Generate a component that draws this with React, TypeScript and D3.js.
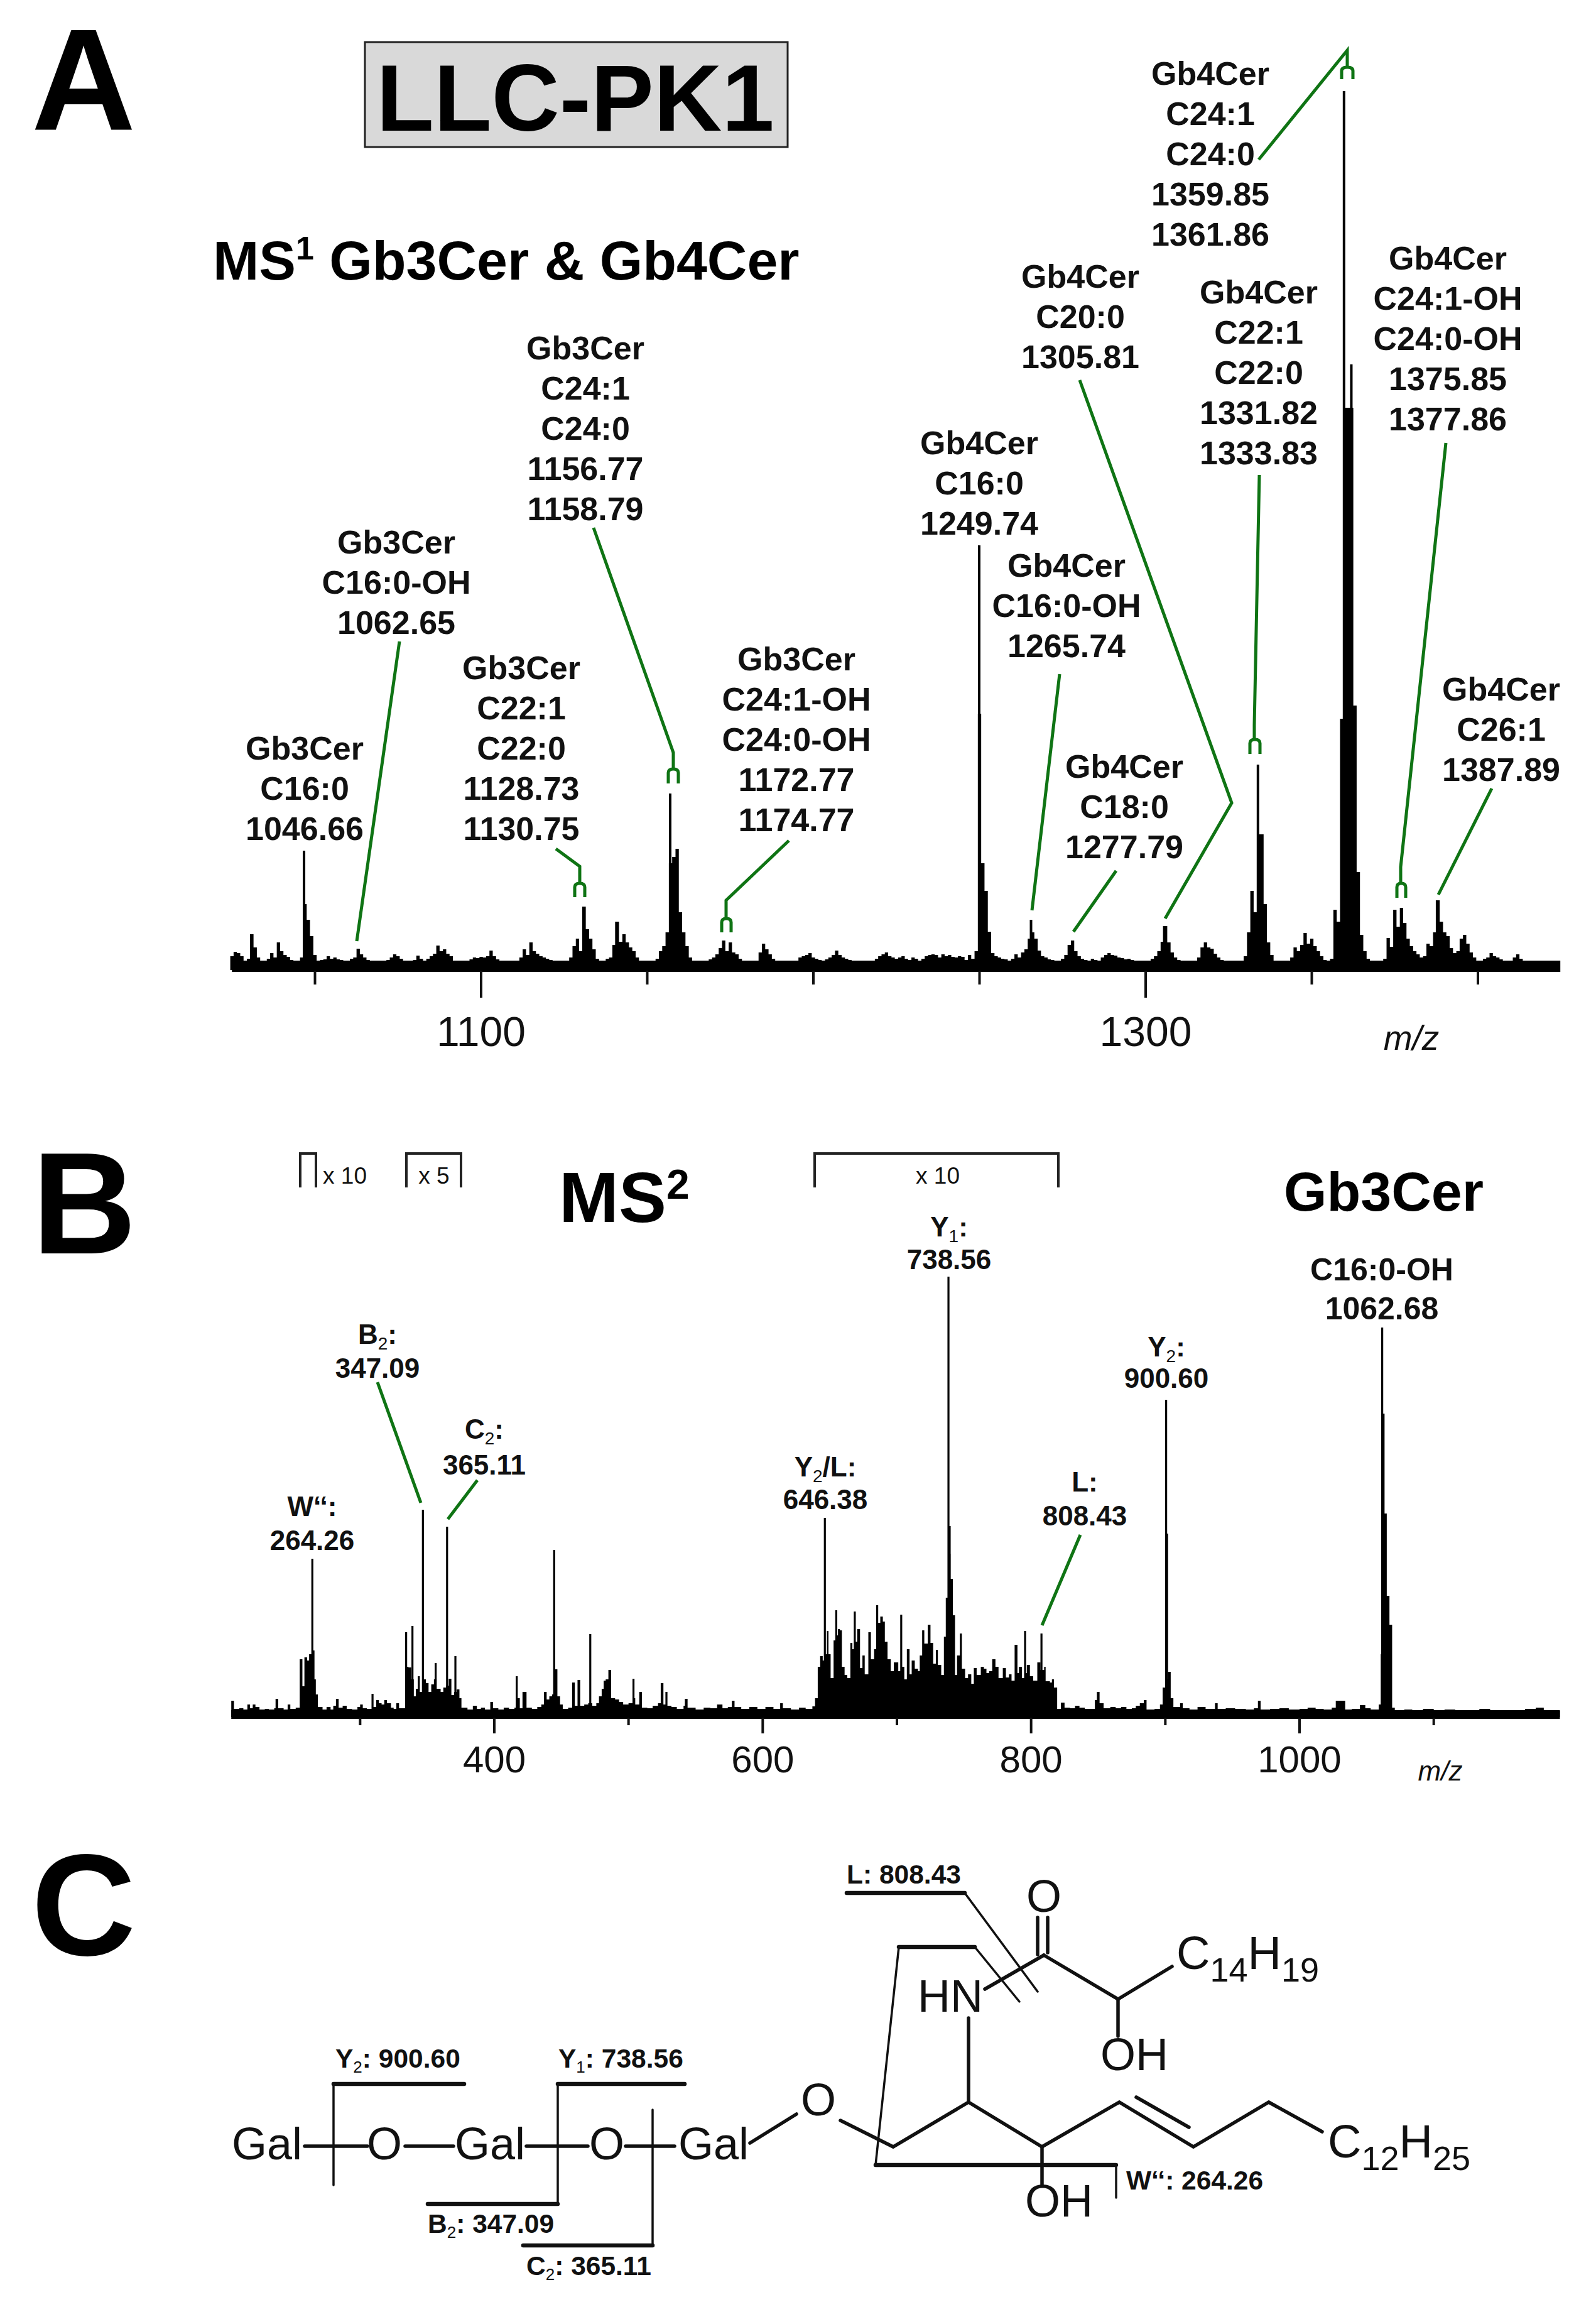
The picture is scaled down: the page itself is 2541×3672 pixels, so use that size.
import React from "react";
import * as d3 from "d3";

// ---------- Panel A data (MS1), one intensity per m/z unit from 1025 ----------
const ms1StartMz = 1025;
const ms1Intensity = [
  22, 29, 27, 22, 15,
  18, 57, 36, 20, 15, 14, 18, 27, 20, 44,
  30, 24, 21, 16, 14, 14, 20, 105, 80, 54,
  24, 15, 16, 17, 22, 18, 20, 17, 16, 15,
  15, 18, 20, 34, 25, 20, 16, 14, 15, 13,
  14, 14, 16, 20, 25, 22, 18, 15, 13, 12,
  16, 23, 18, 14, 18, 22, 26, 39, 30, 33,
  26, 22, 15, 13, 12, 13, 15, 17, 20, 19,
  21, 20, 22, 31, 22, 17, 14, 14, 13, 13,
  14, 15, 20, 33, 24, 44, 30, 26, 22, 20,
  18, 16, 14, 14, 13, 13, 14, 20, 38, 50,
  30, 101, 65, 50, 33, 18, 14, 14, 18, 20,
  40, 77, 45, 57, 44, 36, 30, 20, 15, 13,
  14, 13, 14, 18, 30, 38, 60, 170, 180, 193,
  92, 60, 38, 20, 14, 13, 14, 13, 15, 17,
  20, 25, 35, 47, 30, 44, 28, 25, 18, 14,
  13, 13, 13, 14, 28, 42, 33, 25, 18, 14,
  13, 12, 14, 13, 14, 15, 20, 22, 24, 27,
  20, 18, 16, 15, 17, 20, 24, 31, 24, 20,
  18, 16, 14, 13, 15, 14, 13, 14, 15, 18,
  22, 25, 28, 22, 20, 18, 20, 22, 18, 16,
  20, 18, 15, 18, 22, 24, 25, 24, 20, 25,
  22, 24, 21, 20, 22, 21, 16, 24, 18, 30,
  408, 170, 126, 61, 27, 22, 20, 18, 17, 15,
  18, 25, 20, 28, 33, 50, 60, 50, 31, 22,
  20, 17, 16, 14, 13, 18, 24, 40, 47, 30,
  22, 18, 16, 15, 18, 16, 15, 20, 24, 27,
  24, 23, 20, 19, 17, 18, 16, 14, 12, 11,
  13, 15, 18, 22, 30, 45, 70, 44, 28, 20,
  16, 14, 13, 12, 12, 13, 20, 36, 44, 36,
  34, 26, 20, 16, 13, 12, 12, 13, 14, 15,
  22, 60, 126, 92, 216, 216, 105, 44, 24, 15,
  13, 14, 14, 15, 20, 36, 30, 40, 59, 42,
  50, 38, 30, 22, 16, 13, 18, 96, 77, 400,
  895, 895, 895, 421, 156, 56, 30, 18, 15, 13,
  12, 13, 18, 51, 37, 96, 69, 99, 75, 50,
  38, 30, 25, 20, 22, 42, 38, 60, 111, 77,
  60, 54, 35, 27, 30, 50, 56, 42, 28, 20,
  14, 14, 18, 20, 27, 22, 20, 17, 14, 14,
  15, 20, 25, 18, 15, 14, 13, 13, 13, 13,
  14, 13, 13, 13, 13,
];
const ms1Spikes: [number, number][] = [
  [1030.8, 57], [1046.7, 190], [1130.8, 101], [1156.9, 281], [1140.7, 77],
  [1249.9, 676], [1265.5, 80], [1277.9, 47], [1305.6, 70], [1333.8, 327],
  [1359.7, 1399], [1361.9, 964], [1387.7, 111],
];
const ms1NoiseFloor = 15;
const ms1MajorTicks = [1100, 1300];
const ms1MinorTicks = [1050, 1150, 1200, 1250, 1350, 1400];

const ms1Labels: string[][] = [
  ["Gb3Cer", "C16:0", "1046.66"],
  ["Gb3Cer", "C16:0-OH", "1062.65"],
  ["Gb3Cer", "C22:1", "C22:0", "1128.73", "1130.75"],
  ["Gb3Cer", "C24:1", "C24:0", "1156.77", "1158.79"],
  ["Gb3Cer", "C24:1-OH", "C24:0-OH", "1172.77", "1174.77"],
  ["Gb4Cer", "C16:0", "1249.74"],
  ["Gb4Cer", "C16:0-OH", "1265.74"],
  ["Gb4Cer", "C18:0", "1277.79"],
  ["Gb4Cer", "C20:0", "1305.81"],
  ["Gb4Cer", "C22:1", "C22:0", "1331.82", "1333.83"],
  ["Gb4Cer", "C24:1", "C24:0", "1359.85", "1361.86"],
  ["Gb4Cer", "C24:1-OH", "C24:0-OH", "1375.85", "1377.86"],
  ["Gb4Cer", "C26:1", "1387.89"],
];
const ms1LabelAnchors: [number, number][] = [
  [485, 1337], [631, 1009], [830, 1337], [932, 828], [1268, 1323], [1559, 851], [1698, 1046],
  [1790, 1366], [1720, 586], [2004, 739], [1927, 391], [2305, 685], [2390, 1243],
];

// ---------- Panel B data (MS2): [m/z, intensity] profile and sharp peaks ----------
const ms2Profile: [number, number][] = [
  [204,26],[206,13],[210,14],[213,12],[216,20],[218,14],[220,20],[222,16],[225,12],[229,13],[232,12],[236,14],[237,29],[239,14],[243,12],[246,20],[248,13],[252,15],
  [255,92],[257,49],[258.5,95],[260.5,90],[262,100],[264,106],[266,60],[267,36],[268.5,16],[272,12],[275,16],[278,12],[280,18],[282,29],[284,15],[287,18],[290,13],[294,12],[298,16],[300,20],[302,14],[305,13],
  [308.5,37],[310,16],[312,27],[314,22],[316,20],[318,27],[320,22],[323,15],[325,13],[327,22],[329,14],[332,14],
  [333.5,80],[336,79],[338,60],[340,33],[341.5,45],[343,65],[344.5,40],[347,60],[349,54],[351,40],[353,52],[355,60],[357,45],[360,40],[362,47],[364,50],[366,61],[368,35],[370,40],[372,44],[374,30],[375.5,15],
  [380,12],[384,18],[387,13],[390,15],[393,12],[397,24],[399,14],[403,12],[407,15],[411,13],[415,15],[417,30],[419,14],[421,40],[424,15],[428,13],[432,16],[435,20],[437,40],[439,28],[441,33],[443,36],[445,76],[447,33],[449,20],[451,13],
  [455,15],[458,55],[460,18],[462,59],[464,18],[467,20],[470,22],[473,18],[476,22],[478,33],[480,45],[481.5,58],[483,60],[485,75],[487,30],[490,28],[493,24],[496,20],[500,22],[503,30],[505,20],[508,40],[510,15],
  [514,14],[518,18],[522,22],[524,54],[526,20],[527.5,40],[529,18],[532,16],[536,13],[541,18],[542,29],[544,15],[550,12],[556,15],[561,14],[566,20],[570,14],[574,16],[577,26],[579,16],[584,13],[590,16],[596,13],[602,16],[608,13],[613,22],[615,14],[621,12],[627,15],[632,13],
  [637,17],[639,30],[641,80],[642.8,97],[644.7,90],[646.3,100],[647.8,137],[649,100],[650.6,62],[652.8,122],[654.8,130],[656,140],[657.5,138],[659,80],[661,67],[663,62],
  [665.3,118],[666.8,108],[668.6,120],[670.4,140],[672.5,78],[674.3,98],[676,68],[678.7,135],[680.6,92],[683,108],[685.3,150],[687.6,160],[689.5,152],[691,120],[693,92],[695.4,73],[697.7,87],[701,73],[703.2,80],[705.5,60],[707.4,108],[709.4,68],[711,90],[713.3,77],[715.7,73],
  [717,98],[718.8,138],[720.4,117],[723,147],[725,118],[727,85],[729,107],[730.5,83],[733,67],[735,128],[736.4,190],[738,260],[739.9,220],[741.7,162],[743.3,67],[744.8,98],[746.9,133],[748.4,77],[750.8,62],[753,68],[755.4,53],[757.3,78],[759.4,67],[762.5,80],[764.8,77],[766.7,70],[768.7,73],
  [771,92],[773.4,80],[775.7,62],[778.9,78],[781.2,63],[783.5,68],[785.4,58],[787.7,115],[789.8,70],[790.9,80],[793.2,62],[795.5,70],[796.8,83],[799.1,65],[801.5,58],[804.6,87],[807,75],[809.7,80],[810.8,57],[814,55],[815.5,60],[817,47],[819.4,13],
  [822.2,23],[824.9,15],[829,14],[832.7,18],[836,15],[840,13],[844,13],[847.5,27],[849,40],[851,22],[854,14],[859,16],[863,14],[867,16],[871,13],[875,14],[878,18],[881,22],[884,27],[886,12],[892,13],[896,20],[898,47],[900,60],[902,72],[904,30],[906,16],
  [911,22],[913,14],[918,12],[924,16],[930,13],[937,22],[939,13],[945,14],[952,13],[960,12],[966,14],[969,26],[971,12],[978,13],[985,14],[992,12],[1000,13],[1006,15],[1012,13],[1018,12],[1024,15],[1027,26],[1031,26],[1034,12],[1039,13],[1045,19],[1049,14],[1053,12],
  [1059,20],[1060.5,100],[1062,200],[1064,324],[1065,193],[1067,147],[1069,15],[1071,10],[1078,12],[1084,10],[1092,13],[1100,10],[1108,12],[1116,10],[1124,11],[1134,13],[1142,10],[1152,11],[1160,10],[1168,13],[1176,15],[1182,11],[1188,10],[1194,10],
];
const ms2Spikes: [number, number][] = [
  [264.4, 252], [334.3, 135], [339, 145], [346.8, 330], [356.3, 86], [364.8, 303], [371, 97],
  [416.7, 65], [444.6, 266], [471.5, 132], [503.7, 61], [646.3, 317], [654.8, 170], [668.6, 168],
  [685.3, 178], [703.2, 163], [738.4, 701], [739.3, 304], [795.5, 137], [807.7, 133],
  [900.6, 505], [901.3, 292], [1061.6, 620], [1062.6, 483], [1063.4, 324],
];
const ms2NoiseFloor = 11;
const ms2MajorTicks = [400, 600, 800, 1000];
const ms2MinorTicks = [300, 500, 700, 900, 1100];

type Seg = { t: string; sub?: boolean };
const ms2Labels: Seg[][][] = [
  [[{ t: "W‘‘:" }], [{ t: "264.26" }]],
  [[{ t: "B" }, { t: "2", sub: true }, { t: ":" }], [{ t: "347.09" }]],
  [[{ t: "C" }, { t: "2", sub: true }, { t: ":" }], [{ t: "365.11" }]],
  [[{ t: "Y" }, { t: "2", sub: true }, { t: "/L:" }], [{ t: "646.38" }]],
  [[{ t: "Y" }, { t: "1", sub: true }, { t: ":" }], [{ t: "738.56" }]],
  [[{ t: "L:" }], [{ t: "808.43" }]],
  [[{ t: "Y" }, { t: "2", sub: true }, { t: ":" }], [{ t: "900.60" }]],
];
const ms2LabelAnchors: [number, number, number][] = [
  [497, 2413, 2467], [601, 2139, 2193], [771, 2290, 2347], [1314, 2350, 2402],
  [1511, 1968, 2020], [1727, 2374, 2428], [1857, 2159, 2209],
];

// ---------- Layout ----------
const FONT = "'Liberation Sans', Arial, sans-serif";
const GREEN = "#0f7414";

const x1 = d3.scaleLinear().domain([1100, 1300]).range([766, 1824]);
const y1 = d3.scaleLinear().domain([0, 1400]).range([1544, 144]);
const x2 = d3.scaleLinear().domain([400, 1000]).range([787, 2069]);
const y2 = d3.scaleLinear().domain([0, 700]).range([2733, 2033]);

const ms1Points: [number, number][] = ms1Intensity.map((v, i) => [ms1StartMz + i - 0.5, v]);
ms1Points.push([ms1StartMz + ms1Intensity.length - 0.5, ms1Intensity[ms1Intensity.length - 1]]);

const area1 = d3.area<[number, number]>().x((d) => x1(d[0])).y0(y1(0)).y1((d) => y1(d[1])).curve(d3.curveStepAfter);
const area2 = d3.area<[number, number]>().x((d) => x2(d[0])).y0(y2(0)).y1((d) => y2(d[1])).curve(d3.curveStepAfter);
const lineGen = d3.line<[number, number]>();

// green leader lines and the small "two-prong" isotope brackets
const leaders: [number, number][][] = [
  [[636, 1021], [568, 1498]],
  [[885, 1351], [923, 1379], [923, 1404]],
  [[945, 840], [1072, 1198], [1072, 1224]],
  [[1256, 1338], [1156, 1433], [1156, 1462]],
  [[1687, 1073], [1643, 1449]],
  [[1777, 1386], [1709, 1483]],
  [[1719, 605], [1961, 1278], [1855, 1462]],
  [[2005, 756], [1997, 1154], [1997, 1177]],
  [[2004, 254], [2145, 80], [2145, 107]],
  [[2302, 705], [2230, 1380], [2230, 1406]],
  [[2375, 1255], [2290, 1424]],
  [[601, 2200], [670, 2392]],
  [[760, 2356], [713, 2418]],
  [[1720, 2443], [1659, 2587]],
];
const prongs: [number, number, number, number][] = [
  [915, 931, 1406, 1428],
  [1064, 1080, 1224, 1247],
  [1149, 1164, 1462, 1484],
  [1990, 2006, 1177, 1200],
  [2136, 2154, 107, 126],
  [2224, 2238, 1406, 1429],
];

// structure in panel C
const bonds: [number, number][][] = [
  [[1652, 3052], [1652, 3111]],
  [[1668, 3052], [1668, 3108]],
  [[1662, 3112], [1568, 3166]],
  [[1662, 3112], [1780, 3182], [1866, 3130]],
  [[1780, 3182], [1780, 3241]],
  [[1542, 3212], [1542, 3346]],
  [[1194, 3411], [1268, 3365]],
  [[1338, 3375], [1422, 3417], [1542, 3346], [1659, 3417], [1782, 3346], [1900, 3417], [2020, 3346], [2105, 3393]],
  [[1809, 3338], [1893, 3386]],
  [[1659, 3417], [1659, 3478]],
  [[485, 3416], [585, 3416]],
  [[645, 3416], [722, 3416]],
  [[838, 3416], [936, 3416]],
  [[996, 3416], [1074, 3416]],
];
const thinCuts: [number, number][][] = [
  [[1536, 3013], [1652, 3170]],
  [[1552, 3099], [1623, 3186]],
  [[1431, 3099], [1394, 3446]],
  [[1777, 3446], [1777, 3498]],
  [[531, 3317], [531, 3478]],
  [[888, 3317], [888, 3508]],
  [[1039, 3358], [1039, 3574]],
];
const thickCuts: [number, number][][] = [
  [[1348, 3013], [1536, 3013]],
  [[1431, 3099], [1552, 3099]],
  [[1394, 3446], [1777, 3446]],
  [[531, 3317], [739, 3317]],
  [[888, 3317], [1090, 3317]],
  [[681, 3508], [888, 3508]],
  [[833, 3574], [1039, 3574]],
];
const structureAtoms: [string, number, number, "start" | "middle"][] = [
  ["Gal", 369, 3437, "start"], ["O", 612, 3437, "middle"], ["Gal", 724, 3437, "start"],
  ["O", 966, 3437, "middle"], ["Gal", 1080, 3437, "start"], ["O", 1303, 3367, "middle"],
  ["HN", 1461, 3202, "start"], ["O", 1662, 3043, "middle"], ["OH", 1752, 3295, "start"], ["OH", 1632, 3528, "start"],
];
const fragmentLabels: { segs: Seg[]; x: number; y: number }[] = [
  { segs: [{ t: "L: 808.43" }], x: 1348, y: 2998 },
  { segs: [{ t: "Y" }, { t: "2", sub: true }, { t: ": 900.60" }], x: 534, y: 3291 },
  { segs: [{ t: "Y" }, { t: "1", sub: true }, { t: ": 738.56" }], x: 889, y: 3291 },
  { segs: [{ t: "B" }, { t: "2", sub: true }, { t: ": 347.09" }], x: 681, y: 3554 },
  { segs: [{ t: "C" }, { t: "2", sub: true }, { t: ": 365.11" }], x: 838, y: 3621 },
  { segs: [{ t: "W‘‘: 264.26" }], x: 1793, y: 3485 },
];

function SegText({ segs, subSize, subDy }: { segs: Seg[]; subSize: number; subDy: number }) {
  const out: React.ReactNode[] = [];
  let lowered = false;
  segs.forEach((s, i) => {
    const dy = s.sub ? subDy : lowered ? -subDy : 0;
    lowered = !!s.sub;
    out.push(
      <tspan key={i} dy={dy} fontSize={s.sub ? subSize : undefined} fontWeight={s.sub ? 400 : undefined}>
        {s.t}
      </tspan>
    );
  });
  return <>{out}</>;
}

function Formula({ x, y, a, b }: { x: number; y: number; a: string; b: string }) {
  return (
    <text x={x} y={y} fontSize={74} fill="#111">
      C
      <tspan dy={20} fontSize={54}>{a}</tspan>
      <tspan dy={-20}>H</tspan>
      <tspan dy={20} fontSize={54}>{b}</tspan>
    </text>
  );
}

function Ticks({ x, base, major, minor, majorEnd, minorEnd }: { x: d3.ScaleLinear<number, number>; base: number; major: number[]; minor: number[]; majorEnd: number; minorEnd: number }) {
  return (
    <g stroke="#111" strokeWidth={4}>
      {major.map((t) => <line key={t} x1={x(t)} x2={x(t)} y1={base} y2={majorEnd} />)}
      {minor.map((t) => <line key={t} x1={x(t)} x2={x(t)} y1={base} y2={minorEnd} />)}
    </g>
  );
}

export default function App() {
  return (
    <svg width={2541} height={3672} viewBox="0 0 2541 3672" style={{ position: "absolute", left: 0, top: 0, background: "#fff" }} fontFamily={FONT}>
      {/* Panel letters and titles */}
      <g fontWeight={700} fontSize={230} fill="#000">
        <text x={50} y={207}>A</text>
        <text x={51} y={1995}>B</text>
        <text x={50} y={3112}>C</text>
      </g>
      <rect x={581} y={67} width={673} height={167} fill="#d9d9d9" stroke="#222" strokeWidth={3} />
      <text x={916} y={208} textAnchor="middle" fontSize={150} fontWeight={700} fill="#000">LLC-PK1</text>
      <text x={339} y={445} fontSize={88} fontWeight={700} fill="#000">
        MS<tspan dy={-32} fontSize={52}>1</tspan>
        <tspan dy={32}> Gb3Cer &amp; Gb4Cer</tspan>
      </text>

      {/* Panel A spectrum */}
      <path d={area1(ms1Points) ?? ""} fill="#000" />
      <rect x={x1(1025)} width={x1(1424.8) - x1(1025)} y={y1(ms1NoiseFloor)} height={1547 - y1(ms1NoiseFloor)} fill="#000" />
      <g stroke="#000" strokeWidth={4}>
        {ms1Spikes.map(([m, v]) => <line key={m} x1={x1(m)} x2={x1(m)} y1={y1(0)} y2={y1(v)} />)}
      </g>
      <Ticks x={x1} base={1545} major={ms1MajorTicks} minor={ms1MinorTicks} majorEnd={1588} minorEnd={1567} />
      <g fontSize={66} fill="#111" textAnchor="middle">
        {ms1MajorTicks.map((t) => <text key={t} x={x1(t)} y={1665}>{t}</text>)}
      </g>
      <text x={2247} y={1671} fontSize={55} fontStyle="italic" textAnchor="middle" fill="#111">m/z</text>
      <g fontSize={52} fontWeight={700} fill="#111" textAnchor="middle">
        {ms1Labels.map((rows, i) =>
          rows.map((r, j) => (
            <text key={`${i}-${j}`} x={ms1LabelAnchors[i][0]} y={ms1LabelAnchors[i][1] - (rows.length - 1 - j) * 64}>{r}</text>
          ))
        )}
      </g>

      {/* Panel B heading */}
      <g fontSize={37} fill="#111" textAnchor="middle">
        <text x={549} y={1884}>x 10</text>
        <text x={691} y={1884}>x 5</text>
        <text x={1493} y={1884}>x 10</text>
      </g>
      <g fill="none" stroke="#222" strokeWidth={4}>
        <path d="M478,1890V1836H503V1890" />
        <path d="M647,1890V1836H734V1890" />
        <path d="M1297,1890V1836H1685V1890" />
      </g>
      <text x={890} y={1945} fontSize={114} fontWeight={700} fill="#000">
        MS<tspan dy={-37} fontSize={66}>2</tspan>
      </text>
      <text x={2203} y={1927} textAnchor="middle" fontSize={88} fontWeight={700} fill="#000">Gb3Cer</text>
      <text x={2200} y={2038} textAnchor="middle" fontSize={50} fontWeight={700} fill="#111">C16:0-OH</text>
      <text x={2200} y={2100} textAnchor="middle" fontSize={50} fontWeight={700} fill="#111">1062.68</text>

      {/* Panel B spectrum */}
      <path d={area2(ms2Profile) ?? ""} fill="#000" />
      <rect x={x2(204)} width={x2(1194) - x2(204)} y={y2(ms2NoiseFloor)} height={2736 - y2(ms2NoiseFloor)} fill="#000" />
      <g stroke="#000" strokeWidth={3.2}>
        {ms2Spikes.map(([m, v]) => <line key={m} x1={x2(m)} x2={x2(m)} y1={y2(0)} y2={y2(v)} />)}
      </g>
      <Ticks x={x2} base={2734} major={ms2MajorTicks} minor={ms2MinorTicks} majorEnd={2759} minorEnd={2746} />
      <g fontSize={60} fill="#111" textAnchor="middle">
        {ms2MajorTicks.map((t) => <text key={t} x={x2(t)} y={2821}>{t}</text>)}
      </g>
      <text x={2293} y={2834} fontSize={44} fontStyle="italic" textAnchor="middle" fill="#111">m/z</text>
      <g fontSize={44} fontWeight={700} fill="#111" textAnchor="middle">
        {ms2Labels.map((rows, i) => (
          <g key={i}>
            <text x={ms2LabelAnchors[i][0]} y={ms2LabelAnchors[i][1]}>
              <SegText segs={rows[0]} subSize={28} subDy={9} />
            </text>
            <text x={ms2LabelAnchors[i][0]} y={ms2LabelAnchors[i][2]}>
              <SegText segs={rows[1]} subSize={28} subDy={9} />
            </text>
          </g>
        ))}
      </g>

      {/* Green annotation leaders */}
      <g fill="none" stroke={GREEN} strokeWidth={5}>
        {leaders.map((pts, i) => <path key={i} d={lineGen(pts) ?? ""} />)}
        {prongs.map(([a, b, t, e], i) => (
          <path key={i} d={`M${a},${e}V${t + 6}Q${a},${t} ${(a + b) / 2},${t}Q${b},${t} ${b},${t + 6}V${e}`} />
        ))}
      </g>

      {/* Panel C structure */}
      <g fill="none" stroke="#111" strokeLinecap="round">
        <g strokeWidth={5.5}>{bonds.map((p, i) => <path key={i} d={lineGen(p) ?? ""} />)}</g>
        <g strokeWidth={3.5}>{thinCuts.map((p, i) => <path key={i} d={lineGen(p) ?? ""} />)}</g>
        <g strokeWidth={6.5}>{thickCuts.map((p, i) => <path key={i} d={lineGen(p) ?? ""} />)}</g>
      </g>
      <g fontSize={72} fill="#111">
        {structureAtoms.map(([s, x, y, a], i) => <text key={i} x={x} y={y} textAnchor={a}>{s}</text>)}
      </g>
      <Formula x={1873} y={3134} a="14" b="19" />
      <Formula x={2114} y={3434} a="12" b="25" />
      <g fontSize={42.5} fontWeight={700} fill="#111">
        {fragmentLabels.map((f, i) => (
          <text key={i} x={f.x} y={f.y}>
            <SegText segs={f.segs} subSize={26} subDy={8} />
          </text>
        ))}
      </g>
    </svg>
  );
}
